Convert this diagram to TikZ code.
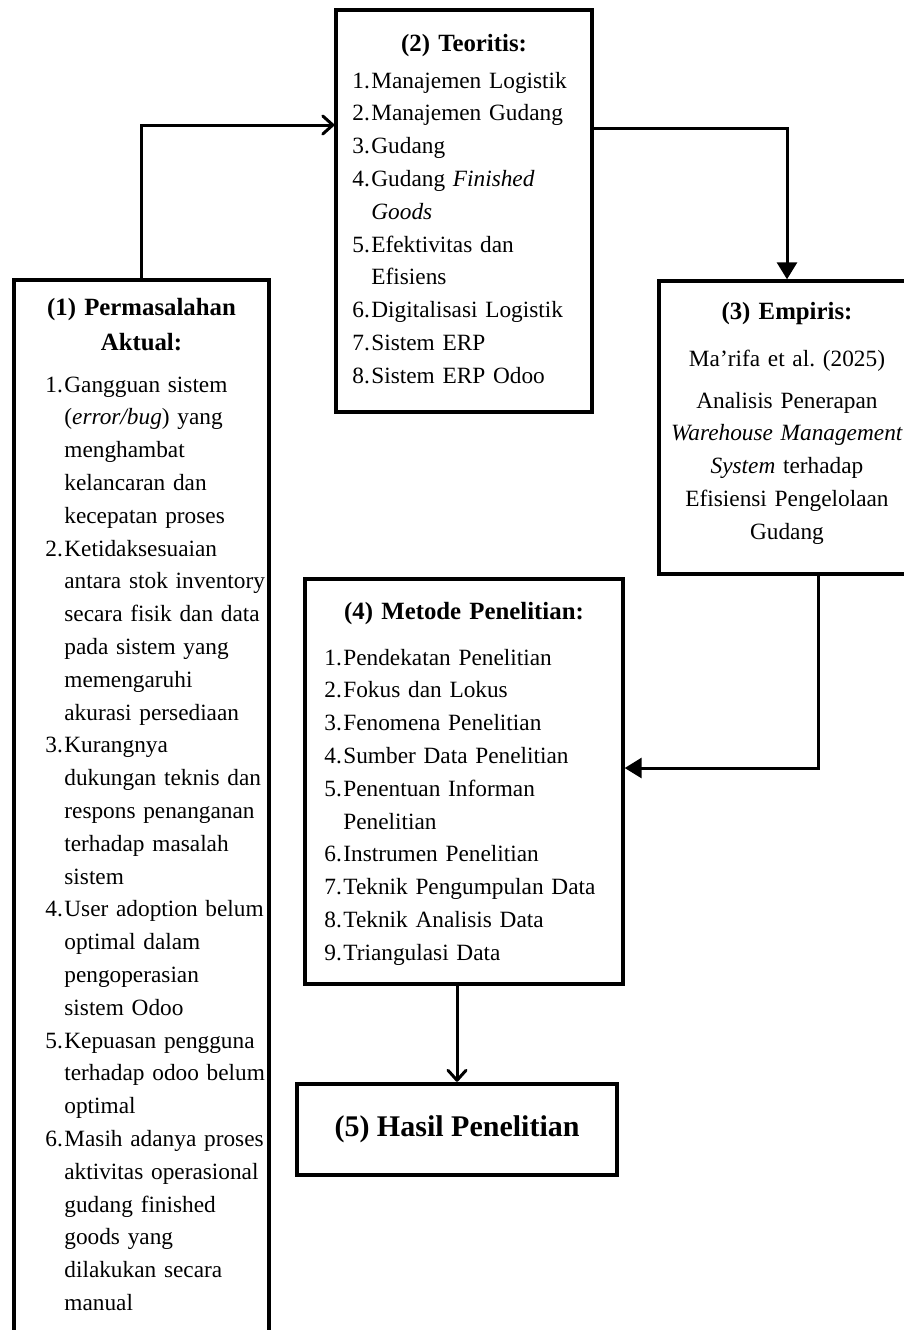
\documentclass[tikz,border=0pt]{standalone}
\usepackage{fontspec}
\setmainfont{Liberation Serif}
\usetikzlibrary{arrows.meta}
\frenchspacing
\newcommand{\boxtextfont}{\fontsize{11.65}{16.4}\selectfont}
\newcommand{\boxheadfont}{\fontsize{12.4}{17.5}\selectfont\bfseries}
\newcommand{\lnum}[1]{\makebox[9.5pt][l]{#1.}}
\newcommand{\lind}{\hspace*{9.5pt}}
\tikzset{
  box/.style={draw, line width=1.7pt, inner sep=0pt},
  headtext/.style={font=\boxheadfont, align=center, text width=150pt, inner sep=0pt, anchor=base},
  listtext/.style={font=\boxtextfont, align=left, text width=150pt, inner sep=0pt, anchor=base west},
  link/.style={line width=1.5pt},
  barb/.style={-{Straight Barb[length=5pt,width=9pt,round]}},
  tri/.style={-{Triangle[length=8.5pt,width=10pt]}},
}

\begin{document}
\begin{tikzpicture}[x=0.5pt, y=-0.5pt]
\useasboundingbox (0,0) rectangle (904,1330);
\clip (0,0) rectangle (904,1330);

% boxes
\node[box, minimum width=127.5pt, minimum height=532.5pt] (perm) at (141.5,812.5) {};
\node[box, minimum width=128pt, minimum height=201pt] (teori) at (464,211) {};
\node[box, minimum width=128pt, minimum height=146.5pt] (emp) at (787,427.5) {};
\node[box, minimum width=159pt, minimum height=202.5pt] (meto) at (464,781.5) {};
\node[box, line width=2.2pt, minimum width=160pt, minimum height=45.5pt,
  font=\fontsize{15}{18}\selectfont\bfseries] (hasil) at (457,1129.5) {(5) Hasil Penelitian};

% (1)
\node[headtext, text width=125pt] (permT) at (141.5,315) {(1) Permasalahan\\Aktual:};
\node[listtext] (permL) at (45,392) {\lnum{1}Gangguan sistem\\
  \lind(\textit{error/bug}) yang\\
  \lind menghambat\\
  \lind kelancaran dan\\
  \lind kecepatan proses\\
  \lnum{2}Ketidaksesuaian\\
  \lind antara stok inventory\\
  \lind secara fisik dan data\\
  \lind pada sistem yang\\
  \lind memengaruhi\\
  \lind akurasi persediaan\\
  \lnum{3}Kurangnya\\
  \lind dukungan teknis dan\\
  \lind respons penanganan\\
  \lind terhadap masalah\\
  \lind sistem\\
  \lnum{4}User adoption belum\\
  \lind optimal dalam\\
  \lind pengoperasian\\
  \lind sistem Odoo\\
  \lnum{5}Kepuasan pengguna\\
  \lind terhadap odoo belum\\
  \lind optimal\\
  \lnum{6}Masih adanya proses\\
  \lind aktivitas operasional\\
  \lind gudang finished\\
  \lind goods yang\\
  \lind dilakukan secara\\
  \lind manual};

% (2)
\node[headtext] (teoriT) at (464,51) {(2) Teoritis:};
\node[listtext] (teoriL) at (352,88) {\lnum{1}Manajemen Logistik\\
  \lnum{2}Manajemen Gudang\\
  \lnum{3}Gudang\\
  \lnum{4}Gudang \textit{Finished}\\
  \lind\textit{Goods}\\
  \lnum{5}Efektivitas dan\\
  \lind Efisiens\\
  \lnum{6}Digitalisasi Logistik\\
  \lnum{7}Sistem ERP\\
  \lnum{8}Sistem ERP Odoo};

% (3)
\node[headtext] (empT) at (787,319) {(3) Empiris:};
\node[listtext, align=center, anchor=base] (empA) at (787,366) {Ma’rifa et al. (2025)};
\node[listtext, align=center, anchor=base] (empB) at (787,408) {Analisis Penerapan\\
  \textit{Warehouse Management}\\
  \textit{System} terhadap\\
  Efisiensi Pengelolaan\\
  Gudang};

% (4)
\node[headtext] (metoT) at (464,619) {(4) Metode Penelitian:};
\node[listtext] (metoL) at (324,665) {\lnum{1}Pendekatan Penelitian\\
  \lnum{2}Fokus dan Lokus\\
  \lnum{3}Fenomena Penelitian\\
  \lnum{4}Sumber Data Penelitian\\
  \lnum{5}Penentuan Informan\\
  \lind Penelitian\\
  \lnum{6}Instrumen Penelitian\\
  \lnum{7}Teknik Pengumpulan Data\\
  \lnum{8}Teknik Analisis Data\\
  \lnum{9}Triangulasi Data};

% connectors
\draw[link, barb] (perm.north) |- ([yshift=43pt]teori.west);
\draw[link, tri] ([yshift=41.5pt]teori.east) -| (emp.north);
\draw[link, tri] ([xshift=15.5pt]emp.south) |- ([yshift=6.75pt]meto.east);
\draw[link, barb] (meto.south -| hasil.north) -- (hasil.north);
\end{tikzpicture}
\end{document}
